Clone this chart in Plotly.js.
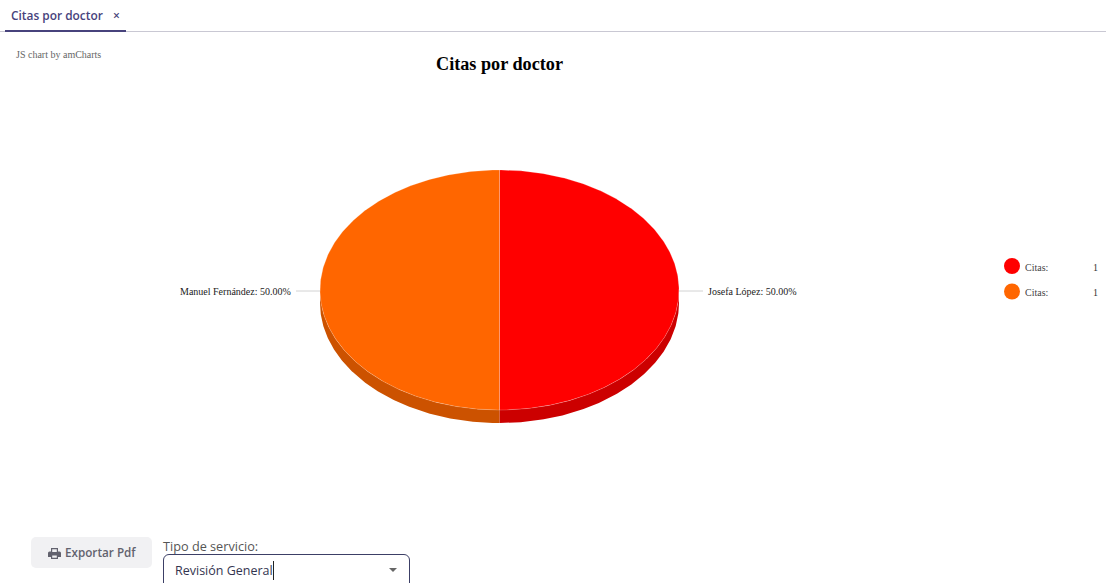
<!DOCTYPE html>
<html lang="es">
<head>
<meta charset="utf-8">
<title>Citas por doctor</title>
<script src="https://cdn.plot.ly/plotly-3.0.1.min.js"></script>
<style>
  html, body { margin: 0; padding: 0; background: #fff; overflow: hidden; }
  #page { position: relative; width: 1106px; height: 583px; overflow: hidden; font-family: "Open Sans", sans-serif; }
  #chart { position: absolute; left: 0; top: 0; width: 1106px; height: 583px; }
  .ui { position: absolute; white-space: nowrap; }
  #tab { left: 11px; top: 7px; font-size: 11.9px; font-weight: 600; line-height: 17px; color: #47437c; }
  #tab span { margin-left: 7px; font-size: 12px; }
  #rule { left: 0; top: 31px; width: 1106px; height: 1px; background: #c9c8d3; }
  #tabline { left: 5px; top: 30px; width: 121px; height: 2px; background: #47437c; }
  #export { left: 31px; top: 537px; width: 121px; height: 31px; border-radius: 5px; background: #f1f1f3; color: #62626e;
            font-size: 11.7px; font-weight: 600; line-height: 31px; }
  #export svg { position: absolute; left: 17px; top: 11px; }
  #export b { position: absolute; left: 34px; font-weight: 600; }
  #service { left: 163px; top: 537px; font-size: 12.7px; line-height: 18px; color: #555; }
  #select { left: 163px; top: 554px; width: 247px; height: 40px; border: 1px solid #3c3f66; border-radius: 6px; box-sizing: border-box; }
  #select i { position: absolute; left: 11px; top: 6px; font-style: normal; font-size: 12.5px; line-height: 19px; color: #33354f;
              padding-right: 0; border-right: 1px solid #222; }
  #select u { position: absolute; left: 225px; top: 13px; width: 0; height: 0; border-left: 4.500px solid transparent;
              border-right: 4.500px solid transparent; border-top: 4px solid #666; }
</style>
</head>
<body>
<div id="page">
  <div id="chart"></div>
  <div class="ui" id="rule"></div>
  <div class="ui" id="tabline"></div>
  <div class="ui" id="tab">Citas por doctor <span>×</span></div>
  <div class="ui" id="export">
    <svg width="13" height="11" viewBox="0 0 13 11"><path fill="#62626e" d="M3 0h7v3.5h1.5A1.5 1.5 0 0 1 13 5v4h-3v2H3V9H0V5a1.5 1.5 0 0 1 1.5-1.5H3zM4.200 1.200v2.800h4.600V1.200zM4.200 7.500v2.300h4.600V7.500z"/></svg>
    <b>Exportar Pdf</b>
  </div>
  <div class="ui" id="service">Tipo de servicio:</div>
  <div class="ui" id="select"><i>Revisión General</i><u></u></div>
</div>
<script>
// Appointments per doctor
const doctors = ["Josefa López", "Manuel Fernández"];
const citas = [1, 1];
const legendName = "Citas:";
const topColors = ["#ff0000", "#ff6600"];
const sideColors = ["#cc0000", "#cc5200"];

// Tilted pie geometry, in page units
const cx = 499.5, cy = 290, rx = 179.5, ry = 120, depth = 13;
const total = citas.reduce((a, b) => a + b, 0);
const serif = '"Liberation Serif", "Times New Roman", serif';

const px = t => cx + rx * Math.sin(t);
const py = (t, dy) => cy - ry * Math.cos(t) + dy;

function arc(a, b, dy) {
  const n = Math.max(2, Math.ceil(Math.abs(b - a) / 0.01));
  const xs = [], ys = [];
  for (let i = 0; i <= n; i++) {
    const t = a + (b - a) * i / n;
    xs.push(px(t));
    ys.push(py(t, dy));
  }
  return { xs, ys };
}

// Angular span of each slice, clockwise from twelve o'clock
let running = 0;
const slices = citas.map((v, i) => {
  const a = running / total * 2 * Math.PI;
  running += v;
  return { i, a, b: running / total * 2 * Math.PI, share: v / total };
});

const traces = [];
const base = { type: "scatter", mode: "lines", fill: "toself", hoverinfo: "text", showlegend: false };

// Extruded rim: only the part of each slice on the near half of the ellipse
slices.forEach(s => {
  const a = Math.max(s.a, Math.PI / 2), b = Math.min(s.b, 3 * Math.PI / 2);
  if (b <= a) return;
  const upper = arc(a, b, 0), lower = arc(b, a, depth);
  traces.push(Object.assign({}, base, {
    x: upper.xs.concat(lower.xs), y: upper.ys.concat(lower.ys),
    fillcolor: sideColors[s.i], line: { color: sideColors[s.i], width: 0 },
    text: doctors[s.i]
  }));
});

// Top face of each slice
slices.forEach(s => {
  const edge = arc(s.a, s.b, 0);
  traces.push(Object.assign({}, base, {
    x: [cx].concat(edge.xs, [cx]), y: [cy].concat(edge.ys, [cy]),
    fillcolor: topColors[s.i], line: { color: "rgba(255,255,255,0.2)", width: 1 },
    text: doctors[s.i] + ": " + citas[s.i]
  }));
});

const annotations = [];
const shapes = [];
const note = (text, x, y, anchor, size, color, bold) => annotations.push({
  text: bold ? "<b>" + text + "</b>" : text, x, y, xref: "x", yref: "y", xanchor: anchor, yanchor: "middle",
  showarrow: false, align: anchor, borderpad: 0,
  font: { family: serif, size, color }
});

note("Citas por doctor", 499.5, 64, "center", 18.2, "#000", true);
note("JS chart by amCharts", 15, 54, "left", 10, "#666");

// Slice labels with their leader lines
slices.forEach(s => {
  const mid = (s.a + s.b) / 2;
  const right = Math.sin(mid) > 0;
  const edgeX = px(mid);
  const labelY = py(mid, 1);
  const tipX = edgeX + (right ? 24 : -24);
  shapes.push({ type: "line", xref: "x", yref: "y", x0: edgeX, x1: tipX, y0: labelY, y1: labelY,
                line: { color: "#c6c6c6", width: 0.8 } });
  note(doctors[s.i] + ": " + (s.share * 100).toFixed(2) + "%", tipX + (right ? 3.5 : -4), labelY, right ? "left" : "right", 10, "#222");
});

// Legend rows
citas.forEach((v, i) => {
  const y = 266 + i * 25.5;
  shapes.push({ type: "circle", xref: "x", yref: "y", x0: 1004, x1: 1020, y0: y - 8, y1: y + 8,
                fillcolor: topColors[i], line: { width: 0 } });
  note(legendName, 1024, y + 1, "left", 10, "#444");
  note(String(v), 1099, y + 1, "right", 10, "#333");
});

const hidden = { visible: false, fixedrange: true };
Plotly.newPlot("chart", traces, {
  width: 1106, height: 583,
  margin: { l: 0, r: 0, t: 0, b: 0 },
  paper_bgcolor: "#fff", plot_bgcolor: "#fff",
  xaxis: Object.assign({ range: [0, 1106] }, hidden),
  yaxis: Object.assign({ range: [583, 0] }, hidden),
  annotations, shapes, showlegend: false
}, { displayModeBar: false, staticPlot: false });
</script>
</body>
</html>
